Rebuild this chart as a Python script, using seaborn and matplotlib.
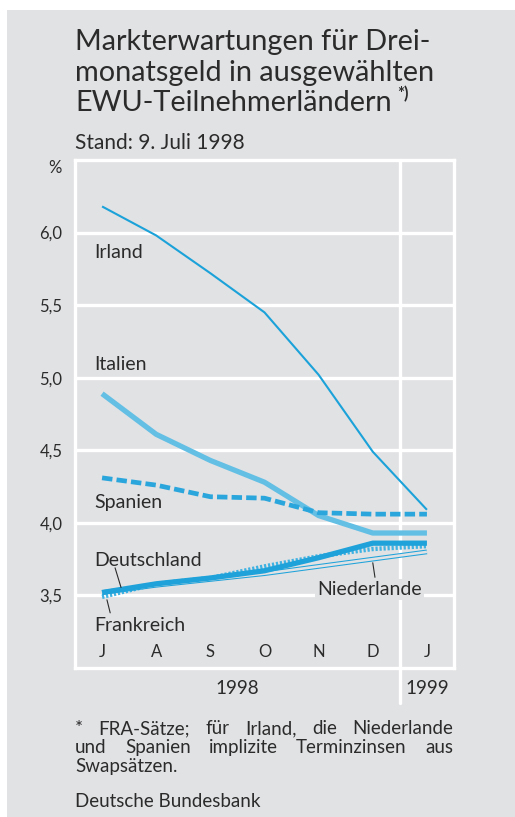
import matplotlib
matplotlib.use("Agg")
import matplotlib.pyplot as plt
import matplotlib.transforms as mtrans
from matplotlib import patheffects as pe
from matplotlib.patches import Rectangle
import seaborn as sns
import pandas as pd

# ---------------- data ----------------
months = ["J", "A", "S", "O", "N", "D", "J"]
years = ["1998", "1999"]
irland = [6.18, 5.98, 5.72, 5.45, 5.02, 4.49, 4.09]
italien = [4.89, 4.61, 4.43, 4.28, 4.05, 3.93, 3.93]
spanien = [4.31, 4.26, 4.18, 4.17, 4.07, 4.06, 4.06]
deutschland = [3.52, 3.58, 3.62, 3.67, 3.76, 3.86, 3.86]
frankreich = [3.49, 3.58, 3.62, 3.70, 3.77, 3.82, 3.84]
niederlande = [3.52, 3.57, 3.61, 3.65, 3.70, 3.75, 3.80]
yticks = [3.5, 4.0, 4.5, 5.0, 5.5, 6.0]

series = {
    "Niederlande": niederlande,
    "Irland": irland,
    "Italien": italien,
    "Spanien": spanien,
    "Deutschland": deutschland,
    "Frankreich": frankreich,
}
rows = []
for name, vals in series.items():
    for i, v in enumerate(vals):
        rows.append({"land": name, "pos": i, "wert": v})
df = pd.DataFrame(rows)

BG = "#e1e2e4"
TXT = "#2b2b2b"
W, H = 515, 817

sns.set_style("white")
plt.rcParams["font.family"] = ["Lato", "DejaVu Sans"]
plt.rcParams["lines.scale_dashes"] = False

fig = plt.figure(figsize=(W / 100, H / 100), dpi=100)
fig.patch.set_facecolor("white")
fig.add_artist(Rectangle((7 / W, 0), 1 - 7 / W, 1 - 10 / H, transform=fig.transFigure,
                         facecolor=BG, edgecolor="none", zorder=0))

ax = fig.add_axes([75 / W, 1 - 668 / H, 379 / W, 508 / H])
ax.set_facecolor(BG)
ax.set_xlim(-0.5, 6.5)
ax.set_ylim(3.0, 6.5)

# grid / frame
ax.set_yticks(yticks)
ax.set_yticklabels([f"{t:.1f}".replace(".", ",") for t in yticks])
ax.yaxis.grid(True, color="white", lw=2.4)
ax.set_axisbelow(True)
for s in ax.spines.values():
    s.set_color("white")
    s.set_linewidth(2.4)
    s.set_visible(True)
ax.tick_params(axis="y", length=0, pad=9, labelsize=12, labelcolor=TXT)
ax.set_xticks(range(7))
ax.set_xticklabels(months)
ax.tick_params(axis="x", which="major", length=0, pad=-17, labelsize=12, labelcolor=TXT)
ax.set_xticks([0.5, 1.5, 2.5, 3.5, 4.5], minor=True)
ax.tick_params(axis="x", which="minor", direction="in", length=7.5, width=2.2, color="white")
ax.axvline(5.5, ymin=-0.068, ymax=1, clip_on=False, color="white", lw=2.4, zorder=1)

# ---------------- lines ----------------
styles = {
    "Niederlande": dict(color="#1fa3da", lw=3.4),
    "Irland": dict(color="#1ba2d9", lw=1.5),
    "Italien": dict(color="#63bfe4", lw=3.8),
    "Spanien": dict(color="#2aa6dc", lw=3.4),
    "Deutschland": dict(color="#1ea2d9", lw=3.8),
    "Frankreich": dict(color="#40b2e2", lw=3.2),
}
for name in series:
    st = styles[name]
    sns.lineplot(data=df[df["land"] == name], x="pos", y="wert", ax=ax,
                 color=st["color"], linewidth=st["lw"], legend=False, zorder=3)
    ln = ax.lines[-1]
    ln.set_solid_capstyle("butt")
    if name == "Spanien":
        ln.set_dashes([7.5, 3.0])
        ln.set_dash_capstyle("butt")
    elif name == "Frankreich":
        ln.set_dashes([1.6, 1.3])
        ln.set_dash_capstyle("butt")
        ln.set_zorder(2.9)
    elif name == "Niederlande":
        ln.set_path_effects([pe.Stroke(linewidth=3.4, foreground=st["color"]),
                             pe.Stroke(linewidth=1.9, foreground=BG)])
ax.set_xlabel("")
ax.set_ylabel("")

# ---------------- labels ----------------
lab_kw = dict(fontsize=14, color=TXT, va="center", ha="left")
ax.text(-0.14, 5.86, "Irland", **lab_kw)
ax.text(-0.14, 5.09, "Italien", **lab_kw)
ax.text(-0.14, 4.14, "Spanien", **lab_kw)
ax.text(-0.14, 3.74, "Deutschland", **lab_kw)
ax.text(-0.14, 3.29, "Frankreich", **lab_kw)
ax.text(3.98, 3.54, "Niederlande", bbox=dict(facecolor=BG, edgecolor="none", pad=1.5),
        zorder=4, **lab_kw)
ax.plot([0.24, 0.35], [3.69, 3.555], color=TXT, lw=0.8, zorder=5)
ax.plot([0.09, 0.15], [3.47, 3.38], color=TXT, lw=0.8, zorder=5)
ax.plot([5.0, 5.04], [3.725, 3.625], color=TXT, lw=0.8, zorder=5)

ax.text(-0.053, 0.984, "%", transform=ax.transAxes, ha="center", va="center",
        fontsize=12, color=TXT)
bt = mtrans.blended_transform_factory(ax.transData, ax.transAxes)
ax.text(2.5, -0.04, years[0], transform=bt, ha="center", va="center", fontsize=13.5, color=TXT)
ax.text(6.0, -0.04, years[1], transform=bt, ha="center", va="center", fontsize=13.5, color=TXT)

# ---------------- title ----------------
def fy(py):
    return 1 - py / H

title_lines = ["Markterwartungen für Drei-", "monatsgeld in ausgewählten",
               "EWU-Teilnehmerländern"]
tl = None
for i, t in enumerate(title_lines):
    tl = fig.text(75 / W, fy(50 + 30.5 * i), t, fontsize=20.8, color=TXT, va="baseline")
fig.canvas.draw()
r = fig.canvas.get_renderer()
ext = tl.get_window_extent(r)
fig.text((ext.x1 + 6) / W, fy(99), "*)", fontsize=12, fontweight="bold", color=TXT,
         va="baseline")

fig.text(75 / W, fy(149), "Stand: 9. Juli 1998", fontsize=15, color=TXT, va="baseline")

# ---------------- footnote (justified) ----------------
def justify(words, py, x0=75, x1=453, fs=13.5):
    ts = [fig.text(0, fy(py), w, fontsize=fs, color=TXT, va="baseline") for w in words]
    fig.canvas.draw()
    rr = fig.canvas.get_renderer()
    ws = [t.get_window_extent(rr).width for t in ts]
    gap = (x1 - x0 - sum(ws)) / (len(ws) - 1)
    x = x0
    for t, w in zip(ts, ws):
        t.set_x(x / W)
        x += w + gap

justify(["*", "FRA-Sätze;", "für", "Irland,", "die", "Niederlande"], 734)
justify(["und", "Spanien", "implizite", "Terminzinsen", "aus"], 753)
fig.text(75 / W, fy(772), "Swapsätzen.", fontsize=13.5, color=TXT, va="baseline")
fig.text(75 / W, fy(807), "Deutsche Bundesbank", fontsize=13.5, color=TXT, va="baseline")

fig.savefig("out.png", dpi=100, facecolor="white")
